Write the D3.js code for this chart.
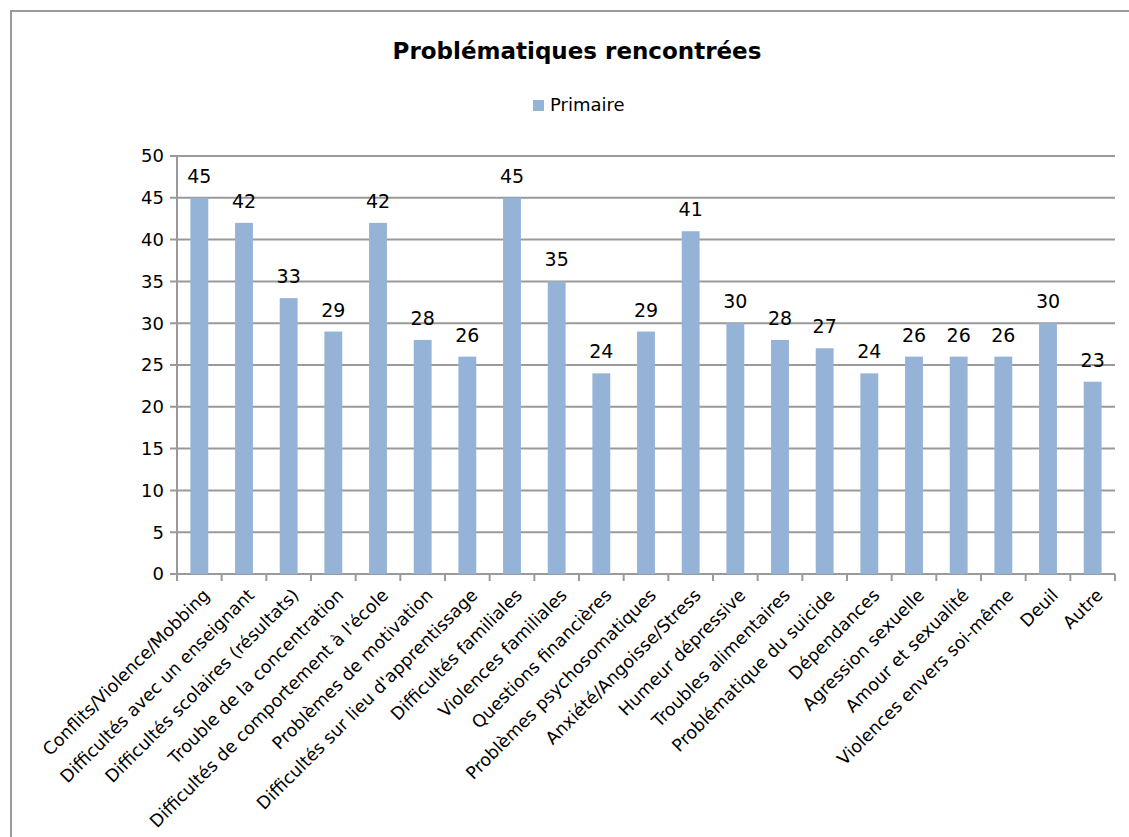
<!DOCTYPE html>
<html>
<head>
<meta charset="utf-8">
<script src="https://cdn.jsdelivr.net/npm/d3@7"></script>
<style>
  body { margin: 0; background: #fff; }
  svg { font-family: "DejaVu Sans", sans-serif; }
</style>
</head>
<body>
<div id="chart"></div>
<script>
// Categories and values (Primaire)
const categories = [
  "Conflits/Violence/Mobbing",
  "Difficultés avec un enseignant",
  "Difficultés scolaires (résultats)",
  "Trouble de la concentration",
  "Difficultés de comportement à l'école",
  "Problèmes de motivation",
  "Difficultés sur lieu d'apprentissage",
  "Difficultés familiales",
  "Violences familiales",
  "Questions financières",
  "Problèmes psychosomatiques",
  "Anxiété/Angoisse/Stress",
  "Humeur dépressive",
  "Troubles alimentaires",
  "Problématique du suicide",
  "Dépendances",
  "Agression sexuelle",
  "Amour et sexualité",
  "Violences envers soi-même",
  "Deuil",
  "Autre"
];
const primaire = [45, 42, 33, 29, 42, 28, 26, 45, 35, 24, 29, 41, 30, 28, 27, 24, 26, 26, 26, 30, 23];
const yTicks = [0, 5, 10, 15, 20, 25, 30, 35, 40, 45, 50];

const W = 1129, H = 837;
const margin = {top: 156, right: 14, bottom: 263, left: 177};
const width = W - margin.left - margin.right;
const height = H - margin.top - margin.bottom;

const svg = d3.select("#chart").append("svg")
    .attr("width", W)
    .attr("height", H);

// outer frame (top and left edges visible)
svg.append("path")
    .attr("d", `M11,${H} L11,11 L${W},11`)
    .attr("fill", "none")
    .attr("stroke", "#9a9a9a")
    .attr("stroke-width", 2);

// title
svg.append("text")
    .attr("x", 577)
    .attr("y", 59)
    .attr("text-anchor", "middle")
    .style("font-size", "23px")
    .style("font-weight", "bold")
    .text("Problématiques rencontrées");

// legend
const legend = svg.append("g").attr("transform", "translate(533,100)");
legend.append("rect")
    .attr("width", 11).attr("height", 11)
    .attr("fill", "#95b3d7");
legend.append("text")
    .attr("x", 17).attr("y", 11)
    .style("font-size", "18px")
    .text("Primaire");

const g = svg.append("g")
    .attr("transform", `translate(${margin.left},${margin.top})`);

const x = d3.scaleBand()
    .domain(categories)
    .range([0, width])
    .paddingInner(0.6)
    .paddingOuter(0.3);

const y = d3.scaleLinear()
    .domain([0, 50])
    .range([height, 0]);

// gridlines
g.append("g")
    .selectAll("line")
    .data(yTicks)
    .join("line")
    .attr("x1", -7)
    .attr("x2", width)
    .attr("y1", d => y(d))
    .attr("y2", d => y(d))
    .attr("stroke", "#9a9a9a")
    .attr("stroke-width", 2);

// y axis labels
g.append("g")
    .selectAll("text")
    .data(yTicks)
    .join("text")
    .attr("x", -13)
    .attr("y", d => y(d))
    .attr("dy", "0.35em")
    .attr("text-anchor", "end")
    .style("font-size", "18px")
    .text(d => d);

// bars
g.append("g")
    .selectAll("rect")
    .data(primaire)
    .join("rect")
    .attr("x", (d, i) => x(categories[i]))
    .attr("y", d => y(d))
    .attr("width", x.bandwidth())
    .attr("height", d => height - y(d))
    .attr("fill", "#95b3d7");

// data labels
g.append("g")
    .selectAll("text")
    .data(primaire)
    .join("text")
    .attr("x", (d, i) => x(categories[i]) + x.bandwidth() / 2)
    .attr("y", d => y(d) - 15)
    .attr("text-anchor", "middle")
    .style("font-size", "19px")
    .text(d => d);

// y axis line
g.append("line")
    .attr("x1", 0).attr("x2", 0)
    .attr("y1", 0).attr("y2", height)
    .attr("stroke", "#9a9a9a")
    .attr("stroke-width", 2);

// x axis with ticks between categories
const x0 = x(categories[0]) - x.paddingOuter() * x.step();
g.append("g")
    .selectAll("line")
    .data(d3.range(categories.length + 1))
    .join("line")
    .attr("x1", i => x0 + i * (width / categories.length))
    .attr("x2", i => x0 + i * (width / categories.length))
    .attr("y1", height)
    .attr("y2", height + 7)
    .attr("stroke", "#9a9a9a")
    .attr("stroke-width", 2);

// category labels
g.append("g")
    .selectAll("text")
    .data(categories)
    .join("text")
    .attr("transform", d => `translate(${x(d) + x.bandwidth() / 2 + 2},${height + 13}) rotate(-45)`)
    .attr("text-anchor", "end")
    .attr("dy", "0.75em")
    .style("font-size", "17.5px")
    .text(d => d);
</script>
</body>
</html>
